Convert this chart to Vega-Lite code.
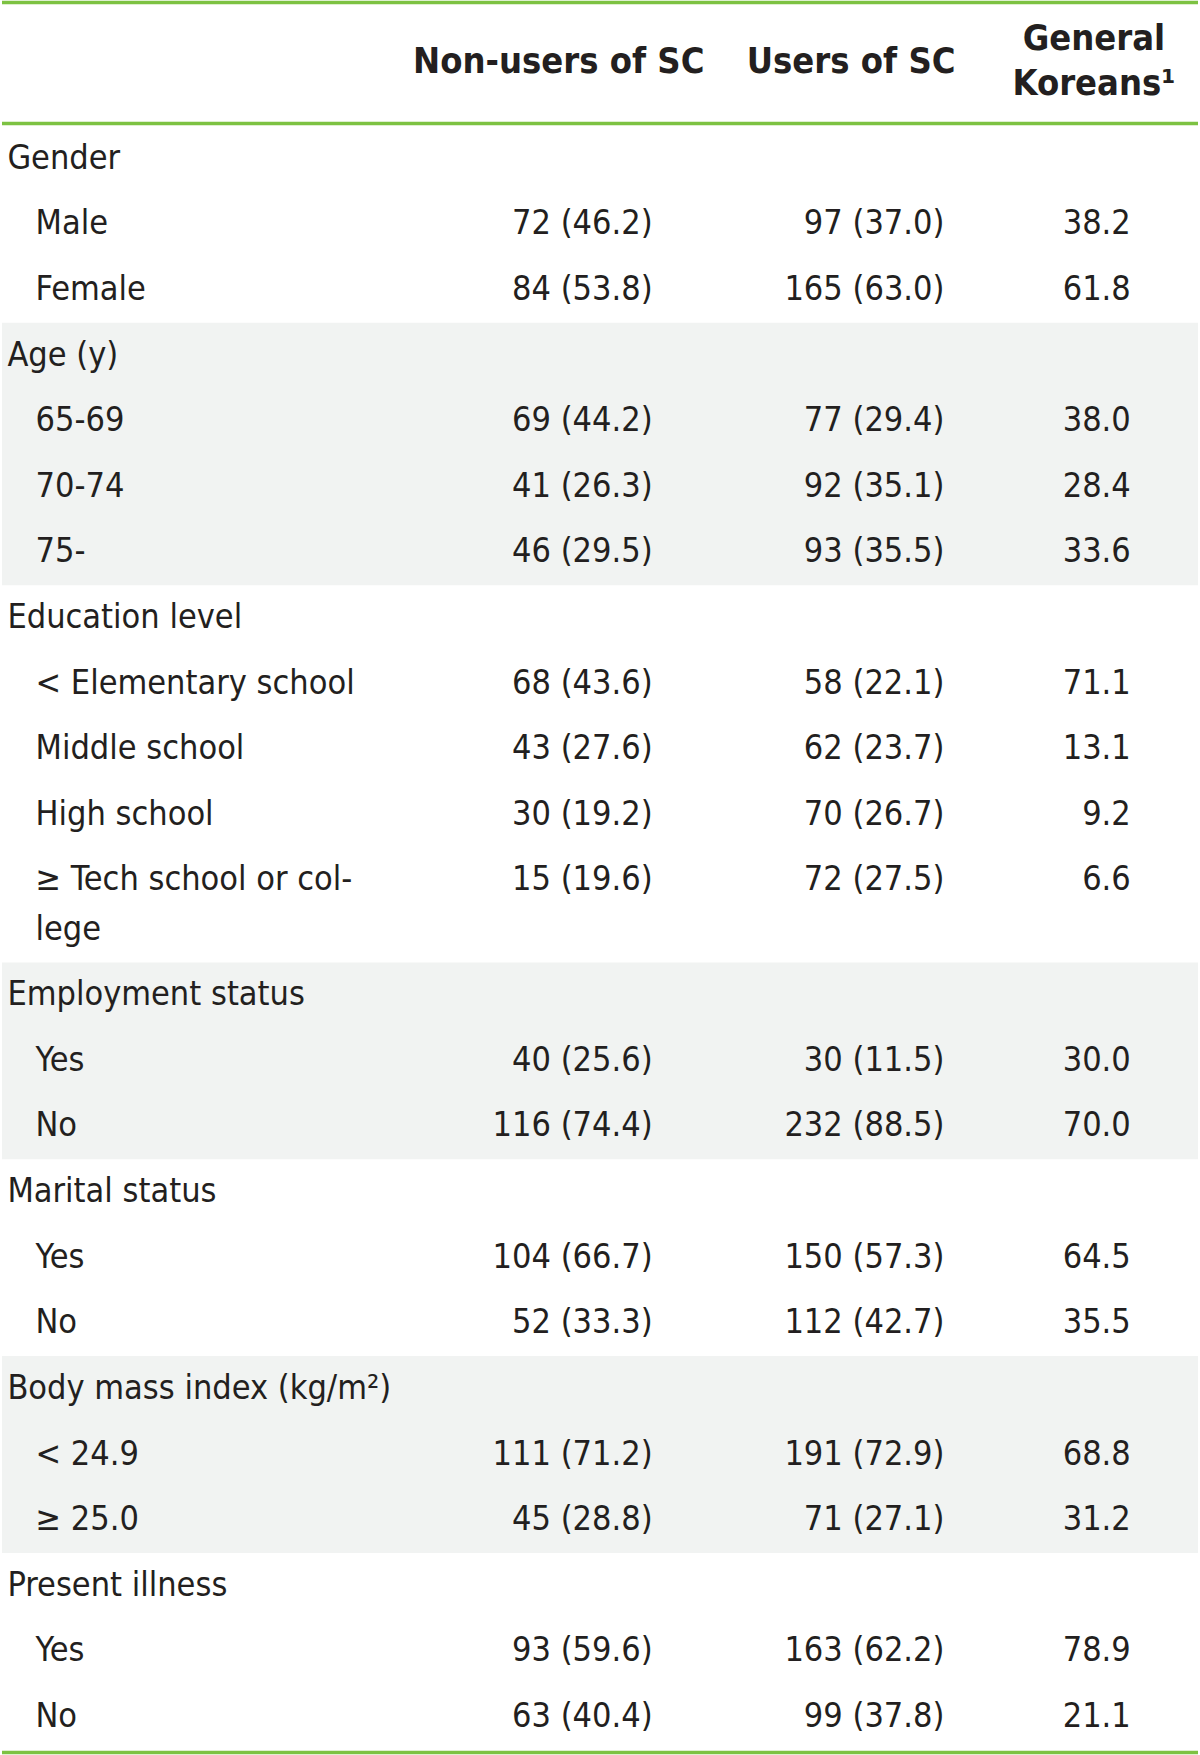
{
  "$schema": "https://vega.github.io/schema/vega-lite/v6.json",
  "autosize": {"type": "fit", "contains": "padding"},
  "width": 1200,
  "height": 1755,
  "padding": 0,
  "background": "white",
  "config": {"view": {"stroke": null}, "text": {"font": "DejaVu Sans Condensed, Liberation Sans Narrow, Roboto, sans-serif", "color": "#231f20", "baseline": "middle"}},
  "datasets": {
    "rows": [
      {"row": 0, "label": "Gender", "level": "group"},
      {"row": 1, "label": "Male", "level": "item", "nonusers": "72 (46.2)", "users": "97 (37.0)", "general": "38.2"},
      {"row": 2, "label": "Female", "level": "item", "nonusers": "84 (53.8)", "users": "165 (63.0)", "general": "61.8"},
      {"row": 3, "label": "Age (y)", "level": "group"},
      {"row": 4, "label": "65-69", "level": "item", "nonusers": "69 (44.2)", "users": "77 (29.4)", "general": "38.0"},
      {"row": 5, "label": "70-74", "level": "item", "nonusers": "41 (26.3)", "users": "92 (35.1)", "general": "28.4"},
      {"row": 6, "label": "75-", "level": "item", "nonusers": "46 (29.5)", "users": "93 (35.5)", "general": "33.6"},
      {"row": 7, "label": "Education level", "level": "group"},
      {"row": 8, "label": "< Elementary school", "level": "item", "nonusers": "68 (43.6)", "users": "58 (22.1)", "general": "71.1"},
      {"row": 9, "label": "Middle school", "level": "item", "nonusers": "43 (27.6)", "users": "62 (23.7)", "general": "13.1"},
      {"row": 10, "label": "High school", "level": "item", "nonusers": "30 (19.2)", "users": "70 (26.7)", "general": "9.2"},
      {"row": 11, "label": "≥ Tech school or col-", "level": "item", "nonusers": "15 (19.6)", "users": "72 (27.5)", "general": "6.6"},
      {"row": 11.75, "label": "lege", "level": "item"},
      {"row": 12.75, "label": "Employment status", "level": "group"},
      {"row": 13.75, "label": "Yes", "level": "item", "nonusers": "40 (25.6)", "users": "30 (11.5)", "general": "30.0"},
      {"row": 14.75, "label": "No", "level": "item", "nonusers": "116 (74.4)", "users": "232 (88.5)", "general": "70.0"},
      {"row": 15.75, "label": "Marital status", "level": "group"},
      {"row": 16.75, "label": "Yes", "level": "item", "nonusers": "104 (66.7)", "users": "150 (57.3)", "general": "64.5"},
      {"row": 17.75, "label": "No", "level": "item", "nonusers": "52 (33.3)", "users": "112 (42.7)", "general": "35.5"},
      {"row": 18.75, "label": "Body mass index (kg/m²)", "level": "group"},
      {"row": 19.75, "label": "< 24.9", "level": "item", "nonusers": "111 (71.2)", "users": "191 (72.9)", "general": "68.8"},
      {"row": 20.75, "label": "≥ 25.0", "level": "item", "nonusers": "45 (28.8)", "users": "71 (27.1)", "general": "31.2"},
      {"row": 21.75, "label": "Present illness", "level": "group"},
      {"row": 22.75, "label": "Yes", "level": "item", "nonusers": "93 (59.6)", "users": "163 (62.2)", "general": "78.9"},
      {"row": 23.75, "label": "No", "level": "item", "nonusers": "63 (40.4)", "users": "99 (37.8)", "general": "21.1"}
    ],
    "bands": [
      {"start": 2.5, "end": 6.5},
      {"start": 12.25, "end": 15.25},
      {"start": 18.25, "end": 21.25}
    ],
    "lines": [
      {"pos": -2.381},
      {"pos": -0.538},
      {"pos": 24.29}
    ]
  },
  "data": {"name": "rows"},
  "layer": [
    {
      "data": {"name": "bands"},
      "mark": {"type": "rect", "color": "#f1f3f2"},
      "encoding": {
        "x": {"datum": 0, "type": "quantitative", "scale": {"domain": [0, 100]}, "axis": null},
        "x2": {"datum": 100},
        "y": {"field": "start", "type": "quantitative", "scale": {"domain": [-2.404, 24.33], "reverse": true, "nice": false, "zero": false}, "axis": null},
        "y2": {"field": "end"}
      }
    },
    {
      "data": {"name": "lines"},
      "mark": {"type": "rule", "color": "#7dc242", "strokeWidth": 3.5},
      "encoding": {
        "y": {"field": "pos", "type": "quantitative"}
      }
    },
    {
      "transform": [{"filter": "datum.level === 'group'"}],
      "mark": {"type": "text", "align": "left", "fontSize": 34},
      "encoding": {
        "x": {"datum": 0.45, "type": "quantitative"},
        "y": {"field": "row", "type": "quantitative"},
        "text": {"field": "label"}
      }
    },
    {
      "transform": [{"filter": "datum.level === 'item'"}],
      "mark": {"type": "text", "align": "left", "fontSize": 34},
      "encoding": {
        "x": {"datum": 2.8, "type": "quantitative"},
        "y": {"field": "row", "type": "quantitative"},
        "text": {"field": "label"}
      }
    },
    {
      "transform": [{"filter": "datum.nonusers != null"}],
      "mark": {"type": "text", "align": "right", "fontSize": 34},
      "encoding": {
        "x": {"datum": 54.4, "type": "quantitative"},
        "y": {"field": "row", "type": "quantitative"},
        "text": {"field": "nonusers"}
      }
    },
    {
      "transform": [{"filter": "datum.users != null"}],
      "mark": {"type": "text", "align": "right", "fontSize": 34},
      "encoding": {
        "x": {"datum": 78.8, "type": "quantitative"},
        "y": {"field": "row", "type": "quantitative"},
        "text": {"field": "users"}
      }
    },
    {
      "transform": [{"filter": "datum.general != null"}],
      "mark": {"type": "text", "align": "right", "fontSize": 34},
      "encoding": {
        "x": {"datum": 94.38, "type": "quantitative"},
        "y": {"field": "row", "type": "quantitative"},
        "text": {"field": "general"}
      }
    },
    {
      "data": {"values": [{"t": "Non-users of SC"}]},
      "mark": {"type": "text", "align": "center", "fontSize": 36, "fontWeight": "bold"},
      "encoding": {
        "x": {"datum": 46.55, "type": "quantitative"},
        "y": {"datum": -1.48, "type": "quantitative"},
        "text": {"field": "t"}
      }
    },
    {
      "data": {"values": [{"t": "Users of SC"}]},
      "mark": {"type": "text", "align": "center", "fontSize": 36, "fontWeight": "bold"},
      "encoding": {
        "x": {"datum": 71.0, "type": "quantitative"},
        "y": {"datum": -1.48, "type": "quantitative"},
        "text": {"field": "t"}
      }
    },
    {
      "data": {"values": [{"t": "General"}]},
      "mark": {"type": "text", "align": "center", "fontSize": 36, "fontWeight": "bold"},
      "encoding": {
        "x": {"datum": 91.3, "type": "quantitative"},
        "y": {"datum": -1.82, "type": "quantitative"},
        "text": {"field": "t"}
      }
    },
    {
      "data": {"values": [{"t": "Koreans¹"}]},
      "mark": {"type": "text", "align": "center", "fontSize": 36, "fontWeight": "bold"},
      "encoding": {
        "x": {"datum": 91.3, "type": "quantitative"},
        "y": {"datum": -1.14, "type": "quantitative"},
        "text": {"field": "t"}
      }
    }
  ]
}
